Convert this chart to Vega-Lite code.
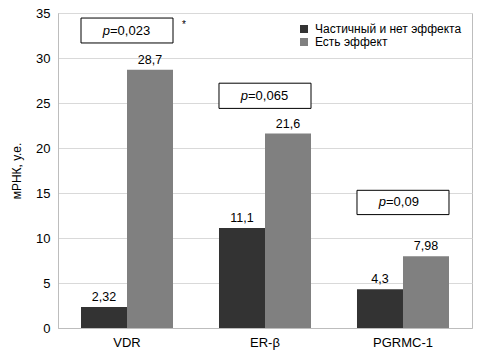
{
  "$schema": "https://vega.github.io/schema/vega-lite/v6.json",
  "width": 414,
  "height": 315,
  "autosize": {"type": "none"},
  "padding": {"left": 58, "top": 13, "right": 14, "bottom": 36},
  "background": "white",
  "config": {
    "font": "Liberation Sans",
    "view": {"stroke": "#bdbdbd", "strokeWidth": 1}
  },
  "datasets": {
    "bars": [
      {"gene": "VDR", "group": "Частичный и нет эффекта", "value": 2.32, "label": "2,32"},
      {"gene": "VDR", "group": "Есть эффект", "value": 28.7, "label": "28,7"},
      {"gene": "ER-β", "group": "Частичный и нет эффекта", "value": 11.1, "label": "11,1"},
      {"gene": "ER-β", "group": "Есть эффект", "value": 21.6, "label": "21,6"},
      {"gene": "PGRMC-1", "group": "Частичный и нет эффекта", "value": 4.3, "label": "4,3"},
      {"gene": "PGRMC-1", "group": "Есть эффект", "value": 7.98, "label": "7,98"}
    ],
    "boxes": [
      {"gene": "VDR", "y1": 31.67, "y2": 34.44, "ty": 33.05, "p": "=0,023"},
      {"gene": "ER-β", "y1": 24.4, "y2": 27.2, "ty": 25.8, "p": "=0,065"},
      {"gene": "PGRMC-1", "y1": 12.6, "y2": 15.3, "ty": 13.95, "p": "=0,09"}
    ],
    "stars": [
      {"gene": "VDR", "ty": 33.7, "mark": "*"}
    ]
  },
  "layer": [
    {
      "data": {"name": "bars"},
      "mark": {"type": "bar"},
      "encoding": {
        "x": {
          "field": "gene", "type": "nominal", "sort": ["VDR", "ER-β", "PGRMC-1"],
          "scale": {"paddingInner": 0.3333, "paddingOuter": 0.1667},
          "axis": {"title": null, "labelAngle": 0, "ticks": false, "domainColor": "#bdbdbd", "labelFontSize": 13, "labelColor": "black", "labelPadding": 8}
        },
        "xOffset": {"field": "group", "type": "nominal", "sort": ["Частичный и нет эффекта", "Есть эффект"], "scale": {"paddingInner": 0, "paddingOuter": 0}},
        "y": {
          "field": "value", "type": "quantitative",
          "scale": {"domain": [0, 35]},
          "axis": {"title": "мРНК, у.е.", "values": [0, 5, 10, 15, 20, 25, 30, 35], "ticks": false, "domainColor": "#bdbdbd", "gridColor": "#d9d9d9", "labelFontSize": 13, "labelColor": "black", "labelPadding": 8, "titleFontSize": 12, "titleFontWeight": "normal", "titleColor": "black", "titlePadding": 12}
        },
        "color": {
          "field": "group", "type": "nominal", "sort": ["Частичный и нет эффекта", "Есть эффект"],
          "scale": {"range": ["#333333", "#808080"]},
          "legend": {"title": null, "orient": "top-right", "offset": 10, "symbolType": "square", "symbolSize": 64, "symbolStrokeWidth": 0, "labelFontSize": 12, "labelColor": "black", "rowPadding": 1, "labelOffset": 5}
        }
      }
    },
    {
      "data": {"name": "bars"},
      "mark": {"type": "text", "baseline": "bottom", "dy": -3, "fontSize": 12.5, "color": "black"},
      "encoding": {
        "x": {"field": "gene", "type": "nominal", "sort": ["VDR", "ER-β", "PGRMC-1"]},
        "xOffset": {"field": "group", "type": "nominal", "sort": ["Частичный и нет эффекта", "Есть эффект"]},
        "y": {"field": "value", "type": "quantitative"},
        "text": {"field": "label", "type": "nominal"}
      }
    },
    {
      "data": {"name": "boxes"},
      "mark": {"type": "bar", "fill": "white", "stroke": "black", "strokeWidth": 1},
      "encoding": {
        "x": {"field": "gene", "type": "nominal", "sort": ["VDR", "ER-β", "PGRMC-1"]},
        "y": {"field": "y1", "type": "quantitative"},
        "y2": {"field": "y2"}
      }
    },
    {
      "data": {"name": "boxes"},
      "mark": {"type": "text", "align": "right", "dx": -17, "fontSize": 13, "fontStyle": "italic", "color": "black", "baseline": "middle"},
      "encoding": {
        "x": {"field": "gene", "type": "nominal", "sort": ["VDR", "ER-β", "PGRMC-1"]},
        "y": {"field": "ty", "type": "quantitative"},
        "text": {"value": "p"}
      }
    },
    {
      "data": {"name": "boxes"},
      "mark": {"type": "text", "align": "left", "dx": -17, "fontSize": 13, "color": "black", "baseline": "middle"},
      "encoding": {
        "x": {"field": "gene", "type": "nominal", "sort": ["VDR", "ER-β", "PGRMC-1"]},
        "y": {"field": "ty", "type": "quantitative"},
        "text": {"field": "p", "type": "nominal"}
      }
    },
    {
      "data": {"name": "stars"},
      "mark": {"type": "text", "align": "center", "dx": 57, "fontSize": 10, "color": "black", "baseline": "middle"},
      "encoding": {
        "x": {"field": "gene", "type": "nominal", "sort": ["VDR", "ER-β", "PGRMC-1"]},
        "y": {"field": "ty", "type": "quantitative"},
        "text": {"field": "mark", "type": "nominal"}
      }
    }
  ]
}
